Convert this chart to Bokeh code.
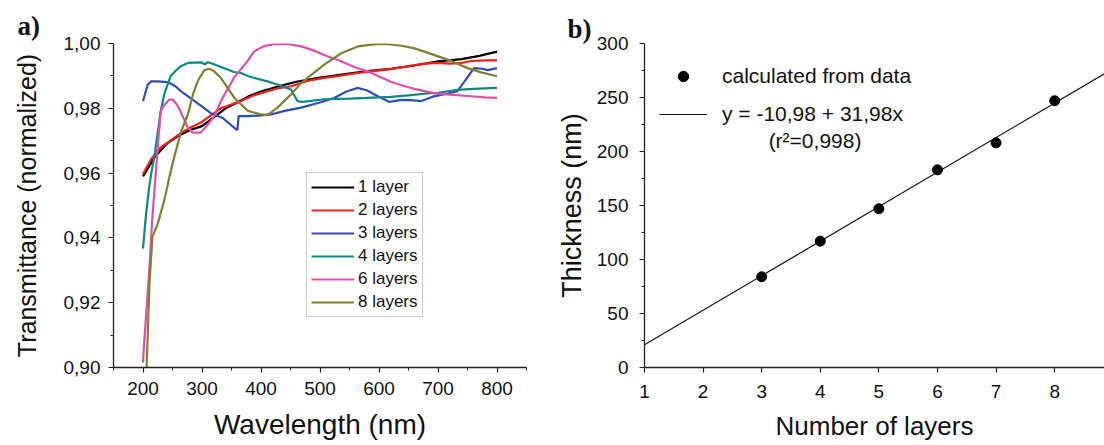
from bokeh.plotting import figure
from bokeh.layouts import row
from bokeh.models import FixedTicker, Legend, LegendItem, Label, Range1d
from bokeh.embed import file_html
from bokeh.resources import INLINE

FONT = "Liberation Sans"

# ---------------- data: panel a) transmittance spectra ----------------
wl_1 = [200, 220, 240, 260, 280, 300, 320, 340, 360, 380, 400, 430, 460, 500, 540, 580, 620, 660, 700, 740, 770, 800]
tr_1 = [0.9590, 0.9650, 0.9690, 0.9715, 0.9733, 0.9745, 0.9772, 0.9800, 0.9818, 0.9838, 0.9852, 0.9868, 0.9882,
        0.9895, 0.9905, 0.9915, 0.9922, 0.9932, 0.9945, 0.9952, 0.9962, 0.9975]

wl_2 = [200, 214, 230, 250, 265, 280, 298, 315, 332, 350, 366, 385, 410, 430, 451, 480, 507, 540, 564, 590, 620,
        650, 677, 700, 720, 740, 756, 780, 800]
tr_2 = [0.9597, 0.9644, 0.9679, 0.9705, 0.9725, 0.9740, 0.9756, 0.9778, 0.9800, 0.9812, 0.9822, 0.9838, 0.9852,
        0.9862, 0.9868, 0.9885, 0.9894, 0.9902, 0.9909, 0.9915, 0.9921, 0.9930, 0.9938, 0.9940, 0.9938, 0.9940,
        0.9946, 0.9948, 0.9948]

wl_3 = [200, 208, 214, 225, 242, 255, 264, 280, 298, 315, 335, 345, 358, 360, 362, 380, 400, 417, 440, 468, 500,
        524, 545, 564, 580, 598, 617, 638, 655, 671, 693, 715, 733, 745, 761, 775, 784, 800]
tr_3 = [0.9822, 0.9873, 0.9883, 0.9883, 0.9881, 0.9868, 0.9853, 0.9832, 0.9808, 0.9785, 0.9770, 0.9755, 0.9735,
        0.9733, 0.9776, 0.9776, 0.9778, 0.9781, 0.9792, 0.9802, 0.9818, 0.9832, 0.9852, 0.9863, 0.9855, 0.9837,
        0.9820, 0.9826, 0.9825, 0.9822, 0.9837, 0.9845, 0.9853, 0.9883, 0.9924, 0.9922, 0.9918, 0.9924]

wl_4 = [200, 205, 210, 214, 219, 230, 236, 247, 255, 264, 276, 298, 305, 310, 320, 340, 354, 366, 380, 411, 430,
        451, 462, 470, 507, 550, 580, 620, 650, 677, 700, 733, 760, 800]
tr_4 = [0.9367, 0.9470, 0.9550, 0.9600, 0.9648, 0.9791, 0.9843, 0.9900, 0.9915, 0.9930, 0.9940, 0.9942, 0.9936,
        0.9942, 0.9936, 0.9922, 0.9912, 0.9909, 0.9898, 0.9883, 0.9872, 0.9858, 0.9822, 0.9820, 0.9828, 0.9830,
        0.9832, 0.9835, 0.9840, 0.9845, 0.9848, 0.9857, 0.9860, 0.9863]

wl_6 = [200, 202, 206, 211, 215, 219, 225, 230, 236, 245, 250, 256, 262, 276, 284, 298, 310, 321, 332, 354, 377,
        388, 405, 422, 434, 450, 468, 490, 510, 536, 560, 581, 600, 620, 638, 660, 693, 720, 750, 780, 800]
tr_6 = [0.9015, 0.9077, 0.9180, 0.9310, 0.9440, 0.9536, 0.9680, 0.9790, 0.9810, 0.9827, 0.9827, 0.9815, 0.9797,
        0.9740, 0.9725, 0.9725, 0.9750, 0.9776, 0.9822, 0.9894, 0.9945, 0.9975, 0.9992, 0.9998, 0.9999, 0.9997,
        0.9991, 0.9978, 0.9962, 0.9945, 0.9926, 0.9914, 0.9898, 0.9882, 0.9871, 0.9860, 0.9847, 0.9842, 0.9838,
        0.9834, 0.9832]

wl_8 = [206, 211, 216, 225, 236, 245, 253, 265, 276, 285, 293, 304, 312, 320, 332, 355, 377, 400, 411, 428, 451,
        468, 479, 507, 536, 564, 598, 620, 638, 660, 677, 693, 720, 750, 775, 800]
tr_8 = [0.8994, 0.9260, 0.9403, 0.9444, 0.9515, 0.9590, 0.9650, 0.9730, 0.9780, 0.9845, 0.9885, 0.9918, 0.9922,
        0.9915, 0.9894, 0.9832, 0.9793, 0.9781, 0.9779, 0.9802, 0.9843, 0.9878, 0.9894, 0.9935, 0.9970, 0.9991,
        0.9999, 0.9997, 0.9993, 0.9985, 0.9975, 0.9965, 0.9948, 0.9924, 0.9910, 0.9899]

series_names = ["1 layer", "2 layers", "3 layers", "4 layers", "6 layers", "8 layers"]
series_colors = ["#000000", "#f0201c", "#2f4fae", "#0a8a80", "#dd4fa8", "#7f8032"]
series_x = [wl_1, wl_2, wl_3, wl_4, wl_6, wl_8]
series_y = [tr_1, tr_2, tr_3, tr_4, tr_6, tr_8]

a_xticks = [200, 300, 400, 500, 600, 700, 800]
a_xminor = [150, 250, 350, 450, 550, 650, 750, 850]
a_yticks = [0.90, 0.92, 0.94, 0.96, 0.98, 1.00]
a_ylabels = ["0,90", "0,92", "0,94", "0,96", "0,98", "1,00"]
a_yminor = [0.91, 0.93, 0.95, 0.97, 0.99]

# ---------------- data: panel b) thickness ----------------
layers = [3, 4, 5, 6, 7, 8]
thickness = [84, 117, 147, 183, 208, 247]
fit_x = [1, 9]
fit_y = [21.00, 276.84]   # y = -10,98 + 31,98x

b_xticks = [1, 2, 3, 4, 5, 6, 7, 8]
b_yticks = [0, 50, 100, 150, 200, 250, 300]
b_yminor = [25, 75, 125, 175, 225, 275]


def style_axes(p, xlabel, ylabel, xlabel_size, ylabel_size, tick_size):
    p.outline_line_color = None
    p.xgrid.visible = False
    p.ygrid.visible = False
    for ax in (p.xaxis[0], p.yaxis[0]):
        ax.axis_line_color = "#222222"
        ax.axis_line_width = 1.3
        ax.major_tick_line_color = "#222222"
        ax.minor_tick_line_color = "#222222"
        ax.major_tick_line_width = 1.2
        ax.minor_tick_line_width = 1.0
        ax.major_tick_in = 0
        ax.major_tick_out = 5
        ax.minor_tick_in = 0
        ax.minor_tick_out = 3
        ax.major_label_text_font = FONT
        ax.major_label_text_font_size = tick_size
        ax.major_label_text_color = "#111111"
        ax.axis_label_text_font = FONT
        ax.axis_label_text_font_style = "normal"
        ax.axis_label_text_color = "#111111"
    p.xaxis[0].axis_label = xlabel
    p.yaxis[0].axis_label = ylabel
    p.xaxis[0].axis_label_text_font_size = xlabel_size
    p.yaxis[0].axis_label_text_font_size = ylabel_size


def panel_title(p, text, offset, standoff):
    p.title.text = text
    p.title.align = "left"
    p.title.offset = offset
    p.title.standoff = standoff
    p.title.text_font = "Liberation Serif"
    p.title.text_font_style = "bold"
    p.title.text_font_size = "27px"
    p.title.text_color = "#111111"


# ---------------- panel a ----------------
p1 = figure(width=552, height=445, x_range=Range1d(150, 850), y_range=Range1d(0.90, 1.00),
            output_backend="svg", toolbar_location=None,
            min_border_left=113, min_border_right=26, min_border_top=42, min_border_bottom=77)
style_axes(p1, "Wavelength (nm)", "Transmittance (normalized)", "28px", "25px", "19px")
panel_title(p1, "a)", -96, 6)
p1.xaxis[0].ticker = FixedTicker(ticks=a_xticks, minor_ticks=a_xminor)
p1.yaxis[0].ticker = FixedTicker(ticks=a_yticks, minor_ticks=a_yminor)
p1.yaxis[0].major_label_overrides = {t: s for t, s in zip(a_yticks, a_ylabels)}
p1.xaxis[0].major_label_standoff = 9
p1.yaxis[0].major_label_standoff = 8
p1.xaxis[0].axis_label_standoff = 11
p1.yaxis[0].axis_label_standoff = 20

items = []
for name, col, xs, ys in zip(series_names, series_colors, series_x, series_y):
    r = p1.line(xs, ys, line_color=col, line_width=2.2)
    items.append(LegendItem(label=name, renderers=[r]))

leg1 = Legend(items=items, location=(193, 50), border_line_color="#9a9a9a", border_line_width=1,
              background_fill_color="white", background_fill_alpha=1.0,
              label_text_font=FONT, label_text_font_size="17px", label_text_color="#111111",
              glyph_width=43, glyph_height=20, label_height=20, label_standoff=4,
              spacing=3, padding=4, margin=0)
p1.add_layout(leg1)

# ---------------- panel b ----------------
p2 = figure(width=552, height=445, x_range=Range1d(1, 8.85), y_range=Range1d(0, 300),
            output_backend="svg", toolbar_location=None,
            min_border_left=92, min_border_right=0, min_border_top=43, min_border_bottom=78)
style_axes(p2, "Number of layers", "Thickness (nm)", "26px", "27px", "19px")
panel_title(p2, "b)", -77, 0)
p2.xaxis[0].ticker = FixedTicker(ticks=b_xticks, minor_ticks=[])
p2.yaxis[0].ticker = FixedTicker(ticks=b_yticks, minor_ticks=b_yminor)
p2.xaxis[0].major_label_standoff = 12
p2.yaxis[0].major_label_standoff = 11
p2.xaxis[0].axis_label_standoff = 10
p2.yaxis[0].axis_label_standoff = 7

ln = p2.line(fit_x, fit_y, line_color="#111111", line_width=1.2)
sc = p2.scatter(layers, thickness, size=10, marker="circle", fill_color="#000000", line_color="#000000")

leg2 = Legend(items=[LegendItem(label="calculated from data", renderers=[sc]),
                     LegendItem(label="y = -10,98 + 31,98x", renderers=[ln])],
              location=(15, 240), border_line_color=None, background_fill_alpha=0.0,
              label_text_font=FONT, label_text_font_size="21px", label_text_color="#111111",
              glyph_width=48, glyph_height=26, label_height=26, label_standoff=15,
              spacing=12, padding=0, margin=0)
p2.add_layout(leg2)

p2.add_layout(Label(x=3.91, y=210, text="(r\u00b2=0,998)", text_font=FONT, text_font_size="21px",
                    text_color="#111111", text_align="center", text_baseline="middle"))

layout = row(p1, p2)
open("out.html", "w").write(file_html(layout, INLINE))
